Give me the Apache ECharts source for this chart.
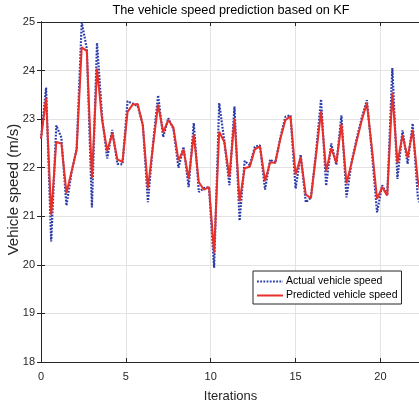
<!DOCTYPE html>
<html>
<head>
<meta charset="utf-8">
<script src="https://cdn.jsdelivr.net/npm/echarts@6/dist/echarts.min.js"></script>
<style>
  html, body { margin: 0; padding: 0; background: #fff; }
  #chart { width: 419px; height: 406px; }
</style>
</head>
<body>
<div id="chart"></div>
<script>
// ---- data ----
const SAMPLE_STEP = 0.3; // iteration spacing between samples
const actualSpeed = [
  22.6, 23.65, 20.48, 22.87, 22.62, 21.22, 21.9, 22.39, 24.99, 24.45,
  21.18, 24.57, 23.05, 22.19, 22.78, 22.08, 22.07, 23.37, 23.32, 23.27,
  22.88, 21.29, 22.5, 23.49, 22.63, 23.02, 22.8, 22.0, 22.43, 21.6,
  22.92, 21.5, 21.58, 21.6, 19.94, 23.33, 22.55, 21.64, 23.26, 20.91,
  22.14, 22.05, 22.43, 22.46, 21.55, 22.17, 22.1, 22.62, 23.05, 23.08,
  21.57, 22.27, 21.29, 21.38, 22.3, 23.41, 21.63, 22.5, 22.06, 23.08,
  21.39, 22.12, 22.6, 23.03, 23.39, 22.3, 21.08, 21.64, 21.43, 24.05,
  21.77, 22.77, 22.08, 22.91, 21.4, 21.1
];
const predictedSpeed = [
  22.6, 23.44, 21.03, 22.53, 22.5, 21.48, 21.92, 22.37, 24.48, 24.4,
  21.79, 24.04, 22.98, 22.35, 22.71, 22.17, 22.12, 23.15, 23.3, 23.31,
  22.87, 21.58, 22.45, 23.3, 22.73, 22.98, 22.83, 22.15, 22.37, 21.77,
  22.68, 21.7, 21.55, 21.6, 20.25, 22.74, 22.53, 21.81, 23.01, 21.31,
  21.99, 22.02, 22.38, 22.44, 21.73, 22.11, 22.1, 22.59, 22.98, 23.06,
  21.86, 22.22, 21.45, 21.37, 22.25, 23.16, 21.93, 22.4, 22.1, 22.9,
  21.68, 22.1, 22.55, 22.98, 23.33, 22.39, 21.36, 21.6, 21.43, 23.54,
  22.1, 22.67, 22.21, 22.78, 21.75, 21.3
];
const iterations = actualSpeed.map((_, i) => +(i * SAMPLE_STEP).toFixed(1));
const xTicks = [0, 5, 10, 15, 20];
const yTicks = [18, 19, 20, 21, 22, 23, 24, 25];
const seriesNames = ['Actual vehicle speed', 'Predicted vehicle speed'];
const chartTitle = 'The vehicle speed prediction based on KF';
const xName = 'Iterations';
const yName = 'Vehicle speed (m/s)';

// ---- layout / style ----
const X_MAX = 22.33;
const AXIS_COLOR = '#262626';
const GRID_COLOR = '#e3e3e3';
const FONT = 'Liberation Sans, Arial, Helvetica, sans-serif';

const chart = echarts.init(document.getElementById('chart'), null, { renderer: 'canvas' });

const baseX = {
  type: 'value', min: 0, max: X_MAX, interval: 5,
  axisLine: { show: true, lineStyle: { color: AXIS_COLOR, width: 1 } },
  axisTick: { show: true, inside: true, length: 4, lineStyle: { color: AXIS_COLOR } },
  splitLine: { show: false }
};
const baseY = {
  type: 'value', min: yTicks[0], max: yTicks[yTicks.length - 1], interval: 1,
  axisLine: { show: true, lineStyle: { color: AXIS_COLOR, width: 1 } },
  axisTick: { show: true, inside: true, length: 4, lineStyle: { color: AXIS_COLOR } },
  splitLine: { show: false }
};

chart.setOption({
  animation: false,
  backgroundColor: '#fff',
  title: {
    text: chartTitle,
    left: 226, top: -1,
    textAlign: 'center',
    textStyle: { fontFamily: FONT, fontSize: 12.7, fontWeight: 'normal', color: '#000' }
  },
  grid: { left: 41, top: 22, right: -1, bottom: 44, containLabel: false, outerBoundsMode: 'none' },
  legend: {
    orient: 'vertical',
    left: 253, top: 271,
    padding: [5, 4, 3, 3],
    itemWidth: 26, itemHeight: 12, itemGap: 3,
    backgroundColor: '#fff',
    borderColor: AXIS_COLOR, borderWidth: 1, borderRadius: 0,
    itemStyle: { opacity: 0, borderWidth: 0 },
    textStyle: { fontFamily: FONT, fontSize: 10.5, color: '#000', padding: [0, 0, 0, -2] },
    data: seriesNames
  },
  xAxis: [
    Object.assign({}, baseX, {
      position: 'bottom',
      name: xName, nameLocation: 'middle', nameGap: 28,
      nameTextStyle: { fontFamily: FONT, fontSize: 13, color: AXIS_COLOR },
      axisLabel: {
        margin: 9, fontFamily: FONT, fontSize: 11, color: AXIS_COLOR,
        formatter: v => (xTicks.indexOf(v) >= 0 ? String(v) : '')
      },
      splitLine: { show: true, lineStyle: { color: GRID_COLOR, width: 1 } }
    }),
    Object.assign({}, baseX, { position: 'top', axisLabel: { show: false } })
  ],
  yAxis: [
    Object.assign({}, baseY, {
      position: 'left',
      name: yName, nameLocation: 'middle', nameGap: 20, nameMoveOverlap: false,
      nameTextStyle: { fontFamily: FONT, fontSize: 15, color: AXIS_COLOR, padding: [0, 0, 0, 5] },
      axisLabel: { margin: 6, fontFamily: FONT, fontSize: 11, color: AXIS_COLOR },
      splitLine: { show: true, lineStyle: { color: GRID_COLOR, width: 1 } }
    }),
    Object.assign({}, baseY, { position: 'right', axisLabel: { show: false } })
  ],
  series: [
    {
      name: seriesNames[0], type: 'line', xAxisIndex: 0, yAxisIndex: 0,
      data: iterations.map((x, i) => [x, actualSpeed[i]]),
      symbol: 'none', clip: true,
      lineStyle: { color: '#2b3caa', width: 2.2, type: [1.8, 1.4] },
      itemStyle: { color: '#2b3caa' },
      z: 2
    },
    {
      name: seriesNames[1], type: 'line', xAxisIndex: 0, yAxisIndex: 0,
      data: iterations.map((x, i) => [x, predictedSpeed[i]]),
      symbol: 'none', clip: true,
      lineStyle: { color: '#e8302a', width: 2 },
      itemStyle: { color: '#e8302a' },
      z: 3
    }
  ]
});
</script>
</body>
</html>
